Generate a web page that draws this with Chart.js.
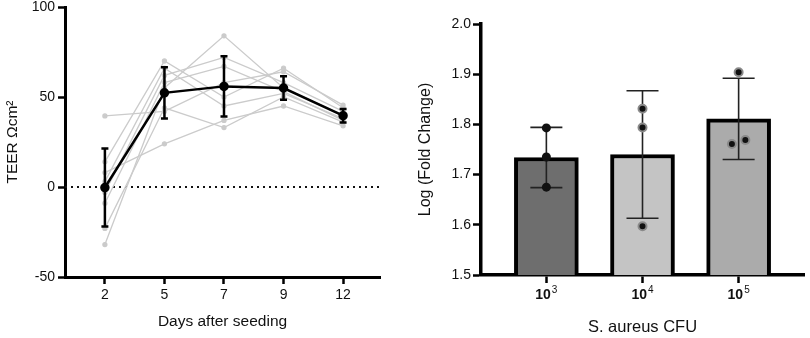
<!DOCTYPE html>
<html>
<head>
<meta charset="utf-8">
<script src="https://cdn.jsdelivr.net/npm/chart.js@4.4.1/dist/chart.umd.min.js"></script>
<style>
  body { margin: 0; background: #fff; }
  #wrap { position: relative; width: 810px; height: 338px; }
  canvas { position: absolute; top: 0; }
</style>
</head>
<body>
<div id="wrap">
  <canvas id="teer" width="405" height="338" style="left:0"></canvas>
  <canvas id="cfu" width="405" height="338" style="left:405px"></canvas>
</div>
<script>
// TEER per well over time
const days = ['2', '5', '7', '9', '12'];
const wells = [
  [-32, 55, 84, 55, 40],
  [39.5, 42, 58, 64, 45.5],
  [8, 24, 37, 45, 34],
  [14, 70, 50, 66, 44],
  [3, 66, 45, 52, 38],
  [-3, 62, 72, 58, 42],
  [-9, 58, 67, 53, 37],
  [-23, 44, 33, 50, 36]
];
const teerMean = [-0.3, 52.3, 55.9, 55.0, 39.6];
const teerSd = [21.7, 14.2, 16.8, 6.5, 3.7];

// fold change by inoculum (10^n CFU)
const cfuBase = '10';
const cfuExp = ['3', '4', '5'];
const foldMean = [1.734, 1.740, 1.811];
const foldSd = [0.060, 0.127, 0.081];
const foldReps = [
  [1.793, 1.735, 1.675],
  [1.831, 1.794, 1.597],
  [1.904, 1.761, 1.769]
];
const repJitter = [
  [0, 0, 0],
  [0, 0, 0],
  [0, -0.07, 0.07]
];
const barColors = ['#6e6e6e', '#c4c4c4', '#ababab'];

const FONT = "'Liberation Sans', Arial, sans-serif";
Chart.defaults.font.family = FONT;
Chart.defaults.color = '#111';
Chart.defaults.animation = false;

function axisGrid(len) {
  return { drawOnChartArea: false, drawTicks: true, tickLength: len, tickWidth: 2.5, tickColor: '#000', offset: false };
}

const zeroLine = {
  id: 'zeroLine',
  beforeDatasetsDraw(chart) {
    const { ctx, chartArea, scales } = chart;
    const y = scales.y.getPixelForValue(0);
    ctx.save();
    ctx.strokeStyle = '#111';
    ctx.lineWidth = 2;
    ctx.setLineDash([2, 4]);
    ctx.beginPath();
    ctx.moveTo(chartArea.left, y);
    ctx.lineTo(chartArea.right, y);
    ctx.stroke();
    ctx.restore();
  }
};

const teerErrors = {
  id: 'teerErrors',
  afterDatasetsDraw(chart) {
    const { ctx, scales } = chart;
    ctx.save();
    ctx.strokeStyle = '#000';
    ctx.lineWidth = 2.5;
    teerMean.forEach((m, i) => {
      const x = scales.x.getPixelForValue(i);
      const y1 = scales.y.getPixelForValue(m + teerSd[i]);
      const y2 = scales.y.getPixelForValue(m - teerSd[i]);
      ctx.beginPath();
      ctx.moveTo(x, y1); ctx.lineTo(x, y2);
      ctx.moveTo(x - 3.5, y1); ctx.lineTo(x + 3.5, y1);
      ctx.moveTo(x - 3.5, y2); ctx.lineTo(x + 3.5, y2);
      ctx.stroke();
    });
    ctx.restore();
  }
};

new Chart(document.getElementById('teer'), {
  type: 'line',
  data: {
    datasets: [
      ...wells.map(w => ({
        data: w.map((v, i) => ({ x: i, y: v })),
        borderColor: '#cbcbcb',
        backgroundColor: '#cbcbcb',
        borderWidth: 1.3,
        pointRadius: 2,
        order: 1
      })),
      {
        data: teerMean.map((v, i) => ({ x: i, y: v })),
        borderColor: '#000',
        backgroundColor: '#000',
        borderWidth: 2.5,
        pointRadius: 3.5,
        order: 0
      }
    ]
  },
  options: {
    responsive: false,
    layout: { padding: { top: 7, right: 25, left: 0, bottom: 0 } },
    plugins: { legend: { display: false }, tooltip: { enabled: false } },
    scales: {
      x: {
        type: 'linear',
        min: -0.67,
        max: 4.62,
        afterBuildTicks: s => { s.ticks = days.map((d, i) => ({ value: i })); },
        afterFit: s => { s.height = 61; s.paddingLeft = 0; s.paddingRight = 0; },
        ticks: { callback: v => days[v], font: { size: 14 }, padding: 3, color: '#111' },
        grid: axisGrid(7),
        border: { width: 3, color: '#000' },
        title: { display: true, text: 'Days after seeding', font: { size: 15.5 }, padding: { top: 0, bottom: 7 }, color: '#111' }
      },
      y: {
        min: -50,
        max: 100,
        afterFit: s => { s.width = 65; s.paddingTop = 0; s.paddingBottom = 0; },
        ticks: { stepSize: 50, font: { size: 14 }, padding: 3, color: '#111' },
        grid: axisGrid(7),
        border: { width: 3, color: '#000' },
        title: { display: true, text: 'TEER Ωcm²', font: { size: 15.5 }, padding: { top: 3, bottom: 0 }, color: '#111' }
      }
    }
  },
  plugins: [zeroLine, teerErrors]
});

const foldErrors = {
  id: 'foldErrors',
  afterDatasetDraw(chart, args) {
    if (args.meta.type !== 'bar') return;
    const { ctx, scales } = chart;
    ctx.save();
    ctx.strokeStyle = '#222';
    ctx.lineWidth = 1.6;
    foldMean.forEach((m, i) => {
      const x = scales.x.getPixelForValue(i);
      const y1 = scales.y.getPixelForValue(m + foldSd[i]);
      const y2 = scales.y.getPixelForValue(m - foldSd[i]);
      ctx.beginPath();
      ctx.moveTo(x, y1); ctx.lineTo(x, y2);
      ctx.moveTo(x - 16, y1); ctx.lineTo(x + 16, y1);
      ctx.moveTo(x - 16, y2); ctx.lineTo(x + 16, y2);
      ctx.stroke();
    });
    ctx.restore();
  }
};

// x tick labels written as a power of ten with a raised exponent
const powerLabels = {
  id: 'powerLabels',
  afterDraw(chart) {
    const { ctx, scales } = chart;
    const base = scales.x.top + 24;
    ctx.save();
    ctx.fillStyle = '#111';
    ctx.textBaseline = 'alphabetic';
    ctx.textAlign = 'left';
    cfuExp.forEach((e, i) => {
      const x = scales.x.getPixelForValue(i);
      ctx.font = 'bold 14px ' + FONT;
      const w1 = ctx.measureText(cfuBase).width;
      ctx.font = '10px ' + FONT;
      const w2 = ctx.measureText(e).width;
      const x0 = x - (w1 + w2 + 1) / 2;
      ctx.font = 'bold 14px ' + FONT;
      ctx.fillText(cfuBase, x0, base);
      ctx.font = '10px ' + FONT;
      ctx.fillText(e, x0 + w1 + 1, base - 6);
    });
    ctx.restore();
  }
};

new Chart(document.getElementById('cfu'), {
  data: {
    datasets: [
      ...foldReps.map((reps, g) => ({
        type: 'scatter',
        data: reps.map((v, k) => ({ x: g + repJitter[g][k], y: v })),
        pointRadius: g === 0 ? 4.5 : 4,
        pointBackgroundColor: '#111',
        pointBorderColor: g === 0 ? '#111' : '#8a8a8a',
        pointBorderWidth: g === 0 ? 0 : 2,
        order: 0
      })),
      {
        type: 'bar',
        data: foldMean.map((v, i) => ({ x: i, y: v })),
        backgroundColor: barColors,
        borderColor: '#000',
        borderWidth: 4,
        borderSkipped: false,
        barThickness: 64,
        order: 1
      }
    ]
  },
  options: {
    responsive: false,
    layout: { padding: { top: 24, right: 3, left: 0, bottom: 0 } },
    plugins: { legend: { display: false }, tooltip: { enabled: false } },
    scales: {
      x: {
        type: 'linear',
        offset: false,
        min: -0.68,
        max: 2.68,
        afterBuildTicks: s => { s.ticks = cfuExp.map((c, i) => ({ value: i })); },
        afterFit: s => { s.height = 63; s.paddingLeft = 0; s.paddingRight = 0; },
        ticks: { callback: () => '', font: { size: 14 }, padding: 3 },
        grid: axisGrid(8),
        border: { width: 3.5, color: '#000' },
        title: { display: true, text: 'S. aureus CFU', font: { size: 16.5 }, padding: { top: 0, bottom: 1 }, color: '#111' }
      },
      y: {
        min: 1.5,
        max: 2.0,
        afterFit: s => { s.width = 76; s.paddingTop = 0; s.paddingBottom = 0; },
        ticks: { stepSize: 0.1, callback: v => v.toFixed(1), font: { size: 14 }, padding: 2, color: '#111' },
        grid: axisGrid(8),
        border: { width: 3.5, color: '#000' },
        title: { display: true, text: 'Log (Fold Change)', font: { size: 16 }, padding: { top: 11, bottom: 0 }, color: '#111' }
      }
    }
  },
  plugins: [foldErrors, powerLabels]
});
</script>
</body>
</html>
